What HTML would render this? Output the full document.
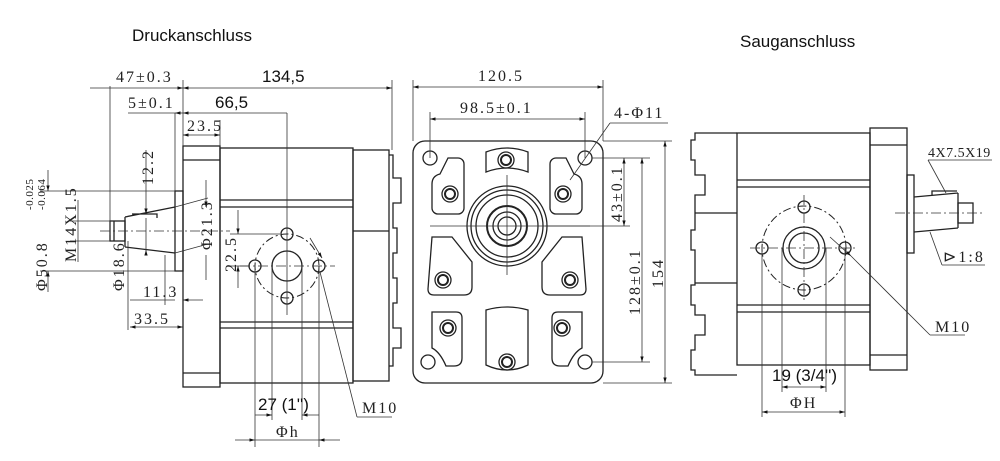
<!DOCTYPE html>
<html><head><meta charset="utf-8"><style>
body{margin:0;background:#fff}
svg{display:block}
.t{font-family:"Liberation Serif",serif;font-size:16px;fill:#222;letter-spacing:2px}
.s{font-family:"Liberation Sans",sans-serif;font-size:17px;fill:#111}
</style></head><body>
<svg width="1000" height="461" viewBox="0 0 1000 461" xmlns="http://www.w3.org/2000/svg">
<defs>
<marker id="a" viewBox="0 0 10 10" refX="10" refY="5" markerWidth="7" markerHeight="7" orient="auto-start-reverse"><path d="M0,2L10,5L0,8z" fill="#111"/></marker>
</defs>
<g fill="none" stroke="#222" stroke-width="1.3">
<!-- LEFT VIEW -->
<rect x="183" y="146" width="37" height="241"/>
<line x1="183" y1="160" x2="220" y2="160"/><line x1="183" y1="373" x2="220" y2="373"/>
<rect x="220" y="148" width="133" height="235"/>
<line x1="220" y1="200" x2="353" y2="200"/><line x1="220" y1="207" x2="353" y2="207"/>
<line x1="220" y1="322" x2="353" y2="322"/><line x1="220" y1="328" x2="353" y2="328"/>
<rect x="353" y="150" width="36" height="231"/>
<line x1="353" y1="231" x2="389" y2="231"/>
<path d="M389,155h4v23h8v25h-8v25h4v25h-4v25h4v25h-4v25h8v20h-8v18h-4"/>
<rect x="175" y="191" width="8" height="80"/>
<path d="M125,217L175,207M125,247L175,253M125,217V247M132,214h25v4"/>
<rect x="110" y="221" width="15" height="20"/>
<line x1="114" y1="221" x2="114" y2="241"/>
<circle cx="287" cy="266" r="15"/>
<circle cx="287" cy="234" r="6"/><circle cx="255" cy="266" r="6"/><circle cx="319" cy="266" r="6"/><circle cx="287" cy="298" r="6"/>
<circle cx="287" cy="266" r="32" stroke-dasharray="8 3 2 3" stroke-width="1"/>
<!-- MIDDLE VIEW -->
<rect x="413" y="141" width="190" height="242" rx="12"/>
<circle cx="430" cy="158" r="7"/><circle cx="585" cy="158" r="7"/><circle cx="428" cy="362" r="7"/><circle cx="585" cy="362" r="7"/>
<circle cx="507" cy="226" r="40"/><circle cx="507" cy="226" r="36"/><circle cx="507" cy="226" r="31"/>
<circle cx="507" cy="226" r="20" stroke-width="2"/><circle cx="507" cy="226" r="14"/><circle cx="507" cy="226" r="9"/>
<path d="M448,158h10a6,6 0 0 1 6,6v44a6,6 0 0 1 -6,6h-20a6,6 0 0 1 -6,-6v-24q0,-8 8,-10z"/>
<path d="M566,158h-10a6,6 0 0 0 -6,6v44a6,6 0 0 0 6,6h20a6,6 0 0 0 6,-6v-24q0,-8 -8,-10z"/>
<path d="M486,152q21,-8 42,0v20q-21,-8 -42,0z"/>
<path d="M432,237h20l20,25v25q0,8 -8,8h-30q-6,0 -6,-6z"/>
<path d="M582,237h-20l-20,25v25q0,8 8,8h30q6,0 6,-6z"/>
<path d="M432,312h24q6,0 6,6v40q0,8 -8,8h-8q-6,-14 -14,-18z"/>
<path d="M582,312h-24q-6,0 -6,6v40q0,8 8,8h8q6,-14 14,-18z"/>
<path d="M486,310q21,-6 42,0v55q-21,10 -42,0z"/>
<circle cx="450" cy="194" r="8"/><circle cx="450" cy="194" r="5" stroke-width="2"/>
<circle cx="563" cy="194" r="8"/><circle cx="563" cy="194" r="5" stroke-width="2"/>
<circle cx="506" cy="160" r="8"/><circle cx="506" cy="160" r="5" stroke-width="2"/>
<circle cx="443" cy="280" r="8"/><circle cx="443" cy="280" r="5" stroke-width="2"/>
<circle cx="570" cy="280" r="8"/><circle cx="570" cy="280" r="5" stroke-width="2"/>
<circle cx="448" cy="328" r="8"/><circle cx="448" cy="328" r="5" stroke-width="2"/>
<circle cx="562" cy="328" r="8"/><circle cx="562" cy="328" r="5" stroke-width="2"/>
<circle cx="507" cy="362" r="8"/><circle cx="507" cy="362" r="5" stroke-width="2"/>
<!-- RIGHT VIEW -->
<path d="M737,133h-42v7h-4v20h4v15h10v20h-10v35h-4v20h4v35h-4v20h4v10h10v20h-10v15h-4v20h4v5h42"/>
<line x1="695" y1="213" x2="737" y2="213"/><line x1="695" y1="283" x2="737" y2="283"/>
<rect x="737" y="133" width="133" height="232"/>
<line x1="737" y1="180" x2="870" y2="180"/><line x1="737" y1="187" x2="870" y2="187"/>
<line x1="737" y1="305" x2="870" y2="305"/><line x1="737" y1="312" x2="870" y2="312"/>
<rect x="870" y="128" width="37" height="242"/>
<line x1="870" y1="145" x2="907" y2="145"/><line x1="870" y1="355" x2="907" y2="355"/>
<rect x="907" y="175" width="7" height="78"/>
<path d="M914,197L958,193M914,232L958,228M958,193V228M932,195v-4h25"/>
<rect x="958" y="203" width="15" height="20"/>
<circle cx="804" cy="248" r="21"/><circle cx="804" cy="248" r="15"/>
<circle cx="804" cy="207" r="6"/><circle cx="762" cy="248" r="6"/><circle cx="845" cy="248" r="6"/><circle cx="804" cy="290" r="6"/>
<circle cx="804" cy="248" r="42" stroke-dasharray="8 3 2 3" stroke-width="1"/>
</g>
<g fill="none" stroke="#333" stroke-width="0.8">
<line x1="100" y1="231" x2="230" y2="231" stroke-dasharray="10 3 2 3"/>
<line x1="240" y1="266" x2="335" y2="266" stroke-dasharray="10 3 2 3"/>
<line x1="287" y1="150" x2="287" y2="315" />
<line x1="430" y1="226" x2="590" y2="226"/><line x1="507" y1="175" x2="507" y2="275"/>
<line x1="750" y1="248" x2="858" y2="248" stroke-dasharray="10 3 2 3"/>
<line x1="804" y1="195" x2="804" y2="302" stroke-dasharray="10 3 2 3"/>
<line x1="895" y1="213" x2="985" y2="213" stroke-dasharray="10 3 2 3"/>
<line x1="90" y1="88" x2="183" y2="88" marker-end="url(#a)"/>
<line x1="183" y1="88" x2="392" y2="88" marker-start="url(#a)" marker-end="url(#a)"/>
<line x1="110" y1="86" x2="110" y2="235"/>
<line x1="183" y1="80" x2="183" y2="146"/>
<line x1="392" y1="80" x2="392" y2="150"/>
<line x1="128" y1="113" x2="175" y2="113"/><line x1="175" y1="113" x2="183" y2="113" marker-start="url(#a)"/>
<line x1="183" y1="113" x2="287" y2="113" marker-start="url(#a)"/>
<line x1="175" y1="113" x2="175" y2="191"/>
<line x1="287" y1="113" x2="287" y2="150"/>
<line x1="183" y1="135" x2="220" y2="135" marker-start="url(#a)" marker-end="url(#a)"/>
<line x1="220" y1="120" x2="220" y2="146"/>
<line x1="40" y1="191" x2="175" y2="191"/><line x1="40" y1="271" x2="175" y2="271"/>
<line x1="48" y1="170" x2="48" y2="191" marker-end="url(#a)"/><line x1="48" y1="271" x2="48" y2="292" marker-start="url(#a)"/>
<line x1="70" y1="221" x2="110" y2="221"/><line x1="70" y1="241" x2="110" y2="241"/>
<line x1="78" y1="200" x2="78" y2="262"/>
<line x1="146" y1="150" x2="146" y2="214" marker-end="url(#a)"/><line x1="146" y1="255" x2="146" y2="250" marker-end="url(#a)"/>
<line x1="146" y1="218" x2="146" y2="250"/>
<line x1="128" y1="241" x2="128" y2="330"/>
<line x1="165" y1="255" x2="165" y2="305"/>
<line x1="130" y1="300" x2="175" y2="300"/><line x1="183" y1="300" x2="203" y2="300" marker-start="url(#a)"/>
<line x1="130" y1="327" x2="183" y2="327" marker-start="url(#a)" marker-end="url(#a)"/>
<line x1="206" y1="180" x2="206" y2="207" marker-end="url(#a)"/><line x1="206" y1="255" x2="206" y2="280"/>
<line x1="175" y1="207" x2="208" y2="198"/><line x1="175" y1="253" x2="208" y2="244"/>
<line x1="238" y1="210" x2="238" y2="234" marker-end="url(#a)"/><line x1="238" y1="266" x2="238" y2="288" marker-start="url(#a)"/>
<line x1="230" y1="234" x2="280" y2="234"/><line x1="230" y1="266" x2="250" y2="266"/>
<line x1="255" y1="266" x2="255" y2="447"/><line x1="272" y1="266" x2="272" y2="420"/>
<line x1="302" y1="266" x2="302" y2="420"/><line x1="319" y1="266" x2="319" y2="447"/>
<line x1="255" y1="415" x2="272" y2="415" marker-end="url(#a)"/><line x1="302" y1="415" x2="319" y2="415" marker-start="url(#a)"/>
<line x1="235" y1="440" x2="255" y2="440" marker-end="url(#a)"/><line x1="319" y1="440" x2="340" y2="440" marker-start="url(#a)"/>
<line x1="255" y1="440" x2="319" y2="440"/>
<line x1="320" y1="272" x2="357" y2="417"/><line x1="357" y1="417" x2="392" y2="417"/>
<line x1="310" y1="238" x2="322" y2="258" marker-end="url(#a)"/>
<line x1="413" y1="87" x2="603" y2="87" marker-start="url(#a)" marker-end="url(#a)"/>
<line x1="413" y1="80" x2="413" y2="141"/><line x1="603" y1="80" x2="603" y2="141"/>
<line x1="430" y1="119" x2="585" y2="119" marker-start="url(#a)" marker-end="url(#a)"/>
<line x1="430" y1="112" x2="430" y2="158"/><line x1="585" y1="112" x2="585" y2="158"/>
<line x1="570" y1="180" x2="610" y2="123"/><line x1="610" y1="123" x2="668" y2="123"/>
<line x1="592" y1="158" x2="650" y2="158"/><line x1="592" y1="362" x2="650" y2="362"/>
<line x1="545" y1="226" x2="630" y2="226"/><line x1="603" y1="141" x2="672" y2="141"/><line x1="603" y1="383" x2="672" y2="383"/>
<line x1="624" y1="158" x2="624" y2="226" marker-start="url(#a)" marker-end="url(#a)"/>
<line x1="642" y1="158" x2="642" y2="362" marker-start="url(#a)" marker-end="url(#a)"/>
<line x1="665" y1="141" x2="665" y2="383" marker-start="url(#a)" marker-end="url(#a)"/>
<line x1="762" y1="248" x2="762" y2="417"/><line x1="782" y1="248" x2="782" y2="392"/>
<line x1="826" y1="248" x2="826" y2="392"/><line x1="845" y1="248" x2="845" y2="417"/>
<line x1="782" y1="387" x2="826" y2="387" marker-start="url(#a)" marker-end="url(#a)"/>
<line x1="762" y1="412" x2="845" y2="412" marker-start="url(#a)" marker-end="url(#a)"/>
<line x1="830" y1="237" x2="851" y2="256" marker-end="url(#a)"/>
<line x1="851" y1="256" x2="930" y2="335"/><line x1="930" y1="335" x2="965" y2="335"/>
<line x1="946" y1="193" x2="928" y2="160"/><line x1="928" y1="160" x2="992" y2="160"/>
<line x1="930" y1="232" x2="942" y2="265"/><line x1="942" y1="265" x2="985" y2="265"/>
</g>
<text class="s" x="132" y="41">Druckanschluss</text>
<text class="s" x="740" y="47">Sauganschluss</text>
<text class="t" x="116" y="82">47±0.3</text>
<text class="s" x="262" y="82">134,5</text>
<text class="t" x="128" y="108">5±0.1</text>
<text class="s" x="215" y="108">66,5</text>
<text class="t" x="187" y="131">23.5</text>
<text class="t" x="143" y="297">11.3</text>
<text class="t" x="134" y="324">33.5</text>
<text class="s" x="258" y="410">27 (1'')</text>
<text class="t" x="276" y="437">Φh</text>
<text class="t" x="362" y="413">M10</text>
<text class="t" transform="translate(153,185) rotate(-90)">12.2</text>
<text class="t" transform="translate(212,250) rotate(-90)">Φ21.3</text>
<text class="t" transform="translate(236,272) rotate(-90)">22.5</text>
<text class="t" transform="translate(124,291) rotate(-90)">Φ18.6</text>
<text class="t" transform="translate(76,262) rotate(-90)">M14X1.5</text>
<text class="t" transform="translate(47,291) rotate(-90)">Φ50.8</text>
<text class="t" style="font-size:11px;letter-spacing:0.5px" transform="translate(33,210) rotate(-90)">-0.025</text>
<text class="t" style="font-size:11px;letter-spacing:0.5px" transform="translate(45,210) rotate(-90)">-0.064</text>
<text class="t" x="478" y="81">120.5</text>
<text class="t" x="460" y="113">98.5±0.1</text>
<text class="t" x="614" y="118">4-Φ11</text>
<text class="t" transform="translate(622,222) rotate(-90)">43±0.1</text>
<text class="t" transform="translate(640,315) rotate(-90)">128±0.1</text>
<text class="t" transform="translate(663,288) rotate(-90)">154</text>
<text class="s" x="772" y="381">19 (3/4'')</text>
<text class="t" x="790" y="408">ΦH</text>
<text class="t" x="935" y="332">M10</text>
<text class="t" x="928" y="157" style="font-size:14px;letter-spacing:0.5px">4X7.5X19</text>
<text class="t" x="943" y="262">⊳1:8</text>
</svg>
</body></html>
